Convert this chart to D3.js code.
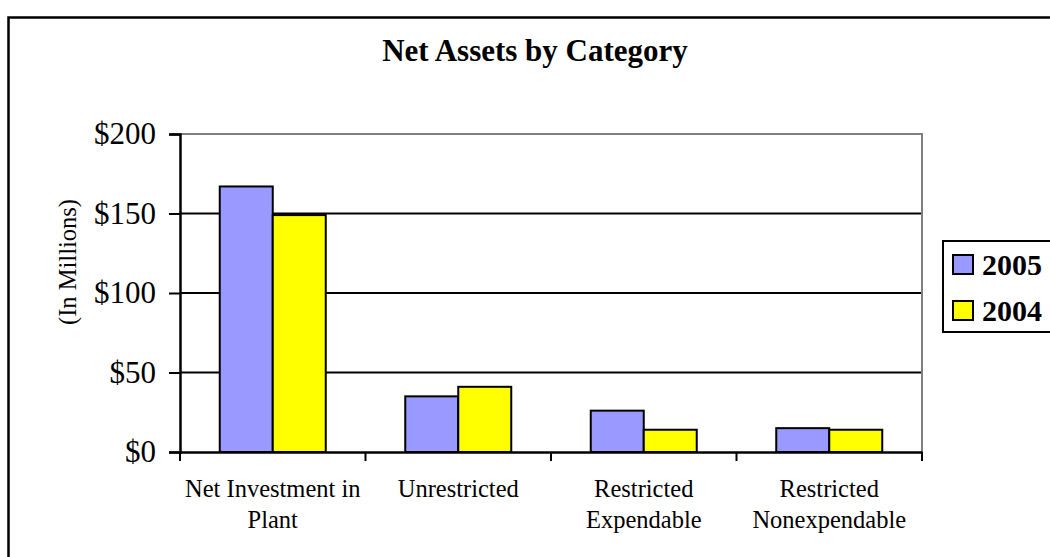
<!DOCTYPE html>
<meta charset="utf-8">
<style>
	body { margin: 0; background: #fff; }
</style>

<div class="chart"></div>

<script src="https://d3js.org/d3.v7.min.js"></script>

<script>
	var categories = [["Net Investment in", "Plant"], ["Unrestricted"], ["Restricted", "Expendable"], ["Restricted", "Nonexpendable"]];
	var seriesNames = ["2005", "2004"];
	var values2005 = [167, 35, 26, 15];
	var values2004 = [149, 41, 14, 14];
	var yTicks = [0, 50, 100, 150, 200];
	var colors = ["#9999FF", "#FFFF00"];

	var serif = '"Liberation Serif", "Times New Roman", serif';
	var width = 1050, height = 557;
	var plot = {left: 180, right: 922, top: 134, bottom: 452};

	var svg = d3.select('.chart').append('svg')
			.attr('width', width)
			.attr('height', height)
			.style('font-family', serif);

	// outer chart border (runs off the right and bottom edges)
	svg.append('rect')
			.attr('x', 8.5).attr('y', 17.5)
			.attr('width', 1060).attr('height', 560)
			.attr('fill', 'none')
			.attr('stroke', '#000')
			.attr('stroke-width', 2.5);

	svg.append('text')
			.attr('x', 535).attr('y', 61)
			.attr('text-anchor', 'middle')
			.style('font-family', serif)
			.style('font-size', '31px')
			.style('font-weight', 'bold')
			.text('Net Assets by Category');

	var keys = categories.map(function(d) { return d.join(' '); });

	var x = d3.scaleBand()
			.domain(keys)
			.range([plot.left, plot.right]);

	var xInner = d3.scaleBand()
			.domain(seriesNames)
			.range([0, x.bandwidth()])
			.paddingInner(0)
			.paddingOuter(0.75);

	var y = d3.scaleLinear()
			.domain([0, 200])
			.range([plot.bottom, plot.top]);

	// gridlines
	svg.append('g')
			.selectAll('line')
			.data(yTicks.filter(function(d) { return d > 0 && d < 200; }))
			.enter().append('line')
			.attr('x1', plot.left).attr('x2', plot.right)
			.attr('y1', function(d) { return y(d); })
			.attr('y2', function(d) { return y(d); })
			.attr('stroke', '#000')
			.attr('stroke-width', 2);

	// plot area border top/right (gray)
	svg.append('path')
			.attr('d', 'M' + plot.left + ',' + y(200) + 'H' + plot.right + 'V' + y(0))
			.attr('fill', 'none')
			.attr('stroke', '#808080')
			.attr('stroke-width', 2);

	// bars
	var rows = keys.map(function(k, i) {
		return {key: k, values: [values2005[i], values2004[i]]};
	});

	var groups = svg.append('g')
			.selectAll('g')
			.data(rows)
			.enter().append('g')
			.attr('transform', function(d) { return 'translate(' + x(d.key) + ',0)'; });

	groups.selectAll('rect')
			.data(function(d) { return d.values.map(function(v, j) { return {series: seriesNames[j], value: v, i: j}; }); })
			.enter().append('rect')
			.attr('x', function(d) { return xInner(d.series); })
			.attr('y', function(d) { return y(d.value); })
			.attr('width', xInner.bandwidth())
			.attr('height', function(d) { return y(0) - y(d.value); })
			.attr('fill', function(d) { return colors[d.i]; })
			.attr('stroke', '#000')
			.attr('stroke-width', 2);

	// y axis
	var yAxis = svg.append('g')
			.attr('transform', 'translate(' + plot.left + ',0)')
			.call(d3.axisLeft(y).tickValues(yTicks).tickSize(11).tickPadding(13)
				.tickFormat(function(d) { return '$' + d; }));
	yAxis.select('.domain').attr('stroke-width', 2.5);
	yAxis.selectAll('.tick line').attr('stroke-width', 2);
	yAxis.selectAll('text')
			.style('font-family', serif)
			.style('font-size', '31px');

	// x axis
	var xAxis = svg.append('g')
			.attr('transform', 'translate(0,' + plot.bottom + ')')
			.call(d3.axisBottom(x).tickSize(0).tickFormat(''));
	xAxis.select('.domain').attr('stroke-width', 2.5);

	svg.append('g')
			.selectAll('line')
			.data(keys.concat(['end']))
			.enter().append('line')
			.attr('x1', function(d) { return d === 'end' ? plot.right : x(d); })
			.attr('x2', function(d) { return d === 'end' ? plot.right : x(d); })
			.attr('y1', plot.bottom)
			.attr('y2', plot.bottom + 9)
			.attr('stroke', '#000')
			.attr('stroke-width', 2);

	var labels = svg.append('g')
			.selectAll('text')
			.data(categories)
			.enter().append('text')
			.attr('text-anchor', 'middle')
			.attr('x', function(d, i) { return x(keys[i]) + x.bandwidth() / 2; })
			.attr('y', 497)
			.style('font-family', serif)
			.style('font-size', '24.5px');

	labels.selectAll('tspan')
			.data(function(d) { return d; })
			.enter().append('tspan')
			.attr('x', function() { return d3.select(this.parentNode).attr('x'); })
			.attr('dy', function(d, i) { return i === 0 ? 0 : 31; })
			.text(function(d) { return d; });

	// y axis title
	svg.append('text')
			.attr('transform', 'translate(76,262) rotate(-90)')
			.attr('text-anchor', 'middle')
			.style('font-family', serif)
			.style('font-size', '24.5px')
			.text('(In Millions)');

	// legend
	var legend = svg.append('g');
	legend.append('rect')
			.attr('x', 943).attr('y', 241)
			.attr('width', 130).attr('height', 91)
			.attr('fill', '#fff')
			.attr('stroke', '#000')
			.attr('stroke-width', 2);

	var items = legend.selectAll('g')
			.data(seriesNames)
			.enter().append('g')
			.attr('transform', function(d, i) { return 'translate(953,' + (255 + i * 46) + ')'; });

	items.append('rect')
			.attr('width', 20).attr('height', 19)
			.attr('fill', function(d, i) { return colors[i]; })
			.attr('stroke', '#000')
			.attr('stroke-width', 2);

	items.append('text')
			.attr('x', 29).attr('y', 20)
			.style('font-family', serif)
			.style('font-size', '30px')
			.style('font-weight', 'bold')
			.text(function(d) { return d; });
</script>
